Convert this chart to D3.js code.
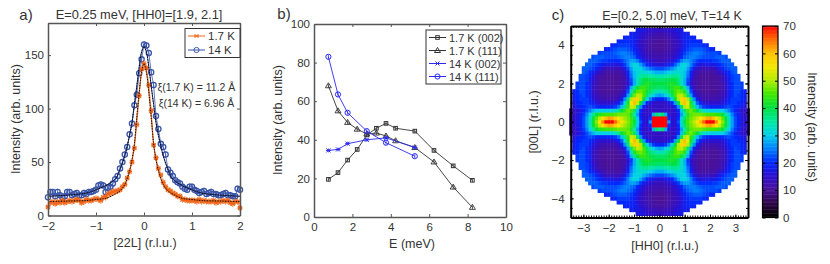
<!DOCTYPE html>
<html>
<head>
<meta charset="utf-8">
<script src="https://cdn.jsdelivr.net/npm/d3@7"></script>
<style>
body { margin: 0; background: #fff; }
svg { display: block; }
text { font-family: "Liberation Sans", Arial, sans-serif; fill: #333; }
.axis path, .axis line { stroke: #555; }
.axis text { font-size: 11.5px; fill: #333; font-family: "Liberation Sans", Arial, sans-serif; }
.black path, .black line { stroke: #000; }
</style>
</head>
<body>
<svg width="830" height="264"></svg>
<script>
// panel a
const scanL = d3.range(81).map(i => -2 + i * 0.05);
const scan17K = [8,12,13,11,13,12,14,12,13,14,13,14,15,14,12,13,15,14,14,15,16,15,14,17,17,20,21,22,23,23,24,27,29,35,41,50,63,85,112,137,142,138,122,98,66,54,44,38,31,27,24,23,21,20,18,18,15,15,14,14,14,14,13,15,13,14,13,13,13,14,12,13,13,14,13,14,12,11,13,13,7];
const scan14K = [17,22,22,18,22,19,17,18,22,22,19,20,21,19,19,21,20,22,22,23,24,28,29,28,22,26,27,30,34,37,44,50,57,64,76,86,103,113,133,146,160,159,152,134,122,93,81,67,64,57,43,40,37,33,31,30,27,25,24,27,27,24,23,21,22,23,20,21,22,20,20,19,19,20,21,19,19,18,18,25,24];
const fitL = [-2,-1.6,-1.2,-1,-0.8,-0.6,-0.5,-0.4,-0.3,-0.25,-0.2,-0.15,-0.1,-0.05,0,0.05,0.1,0.15,0.2,0.25,0.3,0.4,0.5,0.6,0.8,1,1.2,1.6,2];
const fit17K = [13,13.5,14,15,16,20,23,29,42,52,67,92,115,134,142,134,115,92,67,52,42,29,23,20,16,15,14,13.5,13];
const fit14K = [18,19,21,24,28,34,43,56,75,87,104,121,139,153,158,153,139,121,104,87,75,56,43,34,28,24,21,19,18];
const scanErr = 3;
const ticksAX = [-2,-1,0,1,2];
const ticksAY = [0,50,100,150];

// panel b
const energy17K = [0.75,1.25,1.75,2.25,2.75,3.25,3.75,4.25,5.25,6.25,7.25,8.25];
const int17K002 = [19.5,23,29.5,35,42.5,46,48.5,46,44.5,34.5,26.5,19];
const int17K111 = [68,55,49,45.5,43,43.5,42,39.5,36,28.5,15.5,5];
const energy14K = [0.75,1.25,1.75,2.75,3.75,5.25];
const int14K002 = [34.5,35,38,40,41,36];
const int14K111 = [83,63.5,54,44.5,38.5,31.5];
const energyErr = 1;
const ticksBX = [0,2,4,6,8,10];
const ticksBY = [0,20,40,60,80,100];

// panel c, one quadrant, mirrored when drawn
const stepH = 0.125;
const stepL = 0.2;
const mapRows = [
[71,71,71,26,15,16,22,32,40,45,48,51,55,60,65,71,71,71,63,55,48,41,33,27,22,19,17,15,13],
[71,71,71,20,15,15,20,30,38,44,47,49,52,55,58,61,62,60,56,51,46,40,33,27,22,19,16,15,13],
[34,38,28,16,14,15,18,27,35,42,46,47,47,47,46,45,45,45,44,43,40,36,30,25,21,18,16,14,12],
[14,14,14,14,14,15,20,29,38,45,47,44,40,36,33,31,30,30,30,30,30,28,25,22,19,17,15,14,12],
[14,14,14,14,15,18,26,38,50,52,44,36,29,24,21,20,19,19,19,19,20,21,22,21,20,19,18,16],
[14,14,15,16,19,27,40,52,60,54,42,32,23,19,16,15,15,15,15,15,16,18,20,21,21,20,19,17],
[19,19,21,25,31,40,50,57,58,50,37,26,18,14,12,12,12,12,12,13,14,16,19,21,21,21,20,18],
[27,28,30,33,38,45,50,51,47,38,27,18,14,12,11,11,11,11,11,12,13,15,18,20,22,21,20,18],
[33,34,36,38,41,45,47,46,42,33,22,15,12,11,10,10,10,10,10,11,12,14,18,20,22,22,20,19],
[38,38,39,40,42,44,44,41,36,28,19,13,11,10,10,10,10,10,10,11,12,14,18,20,22,22,21],
[40,40,40,41,42,41,38,33,28,21,15,12,11,10,10,10,10,10,10,11,12,14,18,20,22,22,21],
[38,38,39,39,40,40,37,33,28,22,16,12,11,10,10,10,10,10,10,11,13,15,18,21,22,22],
[34,34,35,35,36,36,35,32,29,24,18,13,11,10,10,10,10,10,11,11,13,16,19,21,22,22],
[28,28,29,30,31,32,32,31,29,25,19,14,12,11,11,11,11,11,12,14,16,18,20,22,23],
[22,22,23,24,26,28,30,31,30,27,22,17,14,13,13,13,13,13,15,17,19,21,22,23,23],
[16,16,17,18,20,23,27,30,31,29,25,21,18,16,16,17,17,17,18,20,21,22,23,23],
[13,13,14,15,16,18,21,25,27,27,25,23,21,20,20,20,20,21,21,22,23,23,23],
[12,12,12,13,14,15,17,20,23,24,25,25,24,23,22,22,22,22,23,23,23,22],
[11,11,12,12,13,14,16,18,21,23,24,25,25,24,23,22,22,22,22,21],
[10,10,11,11,12,13,15,17,19,21,22,23,23,23,22,21,20,19],
[10,10,10,11,12,13,14,16,18,20,21,21,21,21,20,19],
[10,10,11,11,12,13,14,16,18,19,20,20,20,19],
[11,11,11,12,13,14,15,17,18,19,19,19],
[12,12,13,13,14,15,16,17,18,18],
[14,14,14,15,15,16,17,17]
];
const colorValues = [0,5,10,15,20,25,30,35,40,45,50,55,60,65,70];
const colorStops = ["#000000","#2c0648","#4a129a","#2c10d0","#0028ff","#0080ff","#00d0e8","#00e8a0","#00e040","#40e800","#b0ec00","#f4e800","#ffc000","#ff6800","#ff0000"];
const ticksCX = [-3,-2,-1,0,1,2,3];
const ticksCY = [-4,-2,0,2,4];
const ticksBar = [0,10,20,30,40,50,60,70];

const orange = "#f0661a", blue = "#3a55a8", mpBlue = "#2a2af0", grey = "#333";

const svg = d3.select("svg");

function frame(x, y, xTicks, yTicks, cls, padLeft) {
    const [x0, x1] = x.range();
    const [y0, y1] = y.range();
    const g = svg.append("g");
    const add = (axis, tx, ty, vals, pad) => {
        const a = axis.tickValues(vals).tickSizeInner(-3).tickSizeOuter(0).tickPadding(pad).tickFormat(pad ? d3.format("d") : "");
        g.append("g").attr("class", "axis " + cls).attr("transform", `translate(${tx},${ty})`).call(a)
            .call(s => s.select(".domain").attr("stroke-width", cls == "black" ? 2 : 1.5));
    };
    add(d3.axisBottom(x), 0, y0, xTicks, 6);
    add(d3.axisTop(x), 0, y1, xTicks, 0);
    add(d3.axisLeft(y), x0, 0, yTicks, padLeft);
    add(d3.axisRight(y), x1, 0, yTicks, 0);
    return g;
}

function label(txt, x, y, size, rotate) {
    const t = svg.append("text").attr("font-size", size).attr("text-anchor", "middle").text(txt);
    if (rotate) t.attr("transform", `translate(${x},${y}) rotate(${rotate})`);
    else t.attr("x", x).attr("y", y);
    return t;
}

function drawMarker(g, kind, color, px, py, err, sw) {
    if (err) g.append("line").attr("x1", px).attr("x2", px).attr("y1", py - err).attr("y2", py + err)
        .attr("stroke", color).attr("stroke-width", 0.8);
    if (kind == "circle") g.append("circle").attr("cx", px).attr("cy", py).attr("r", 2.6)
        .attr("fill", "none").attr("stroke", color).attr("stroke-width", sw);
    if (kind == "square") g.append("rect").attr("x", px - 1.8).attr("y", py - 1.8).attr("width", 3.6).attr("height", 3.6)
        .attr("fill", "none").attr("stroke", color).attr("stroke-width", sw);
    if (kind == "triangle") g.append("path").attr("d", `M${px},${py - 3}L${px + 3},${py + 2}L${px - 3},${py + 2}Z`)
        .attr("fill", "none").attr("stroke", color).attr("stroke-width", sw);
    if (kind == "cross") g.append("path").attr("d", `M${px - 2},${py - 2}L${px + 2},${py + 2}M${px - 2},${py + 2}L${px + 2},${py - 2}M${px - 2.5},${py}L${px + 2.5},${py}`)
        .attr("fill", "none").attr("stroke", color).attr("stroke-width", sw);
}

function series(xs, ys, x, y, kind, color, err, sw, msw) {
    const g = svg.append("g");
    const line = d3.line().x((d, i) => x(xs[i])).y(d => y(d));
    g.append("path").attr("d", line(ys)).attr("fill", "none").attr("stroke", color).attr("stroke-width", sw);
    ys.forEach((v, i) => drawMarker(g, kind, color, x(xs[i]), y(v), Math.abs(y(v) - y(v + err)), msw));
}

function legend(x0, y0, w, h, rows, rowH, size) {
    const g = svg.append("g");
    g.append("rect").attr("x", x0).attr("y", y0).attr("width", w).attr("height", h)
        .attr("fill", "#fff").attr("stroke", "#333").attr("stroke-width", 1);
    rows.forEach((r, i) => {
        const yy = y0 + (i + 0.5) * rowH + (h - rowH * rows.length) / 2;
        g.append("line").attr("x1", x0 + 3).attr("x2", x0 + 20).attr("y1", yy).attr("y2", yy)
            .attr("stroke", r.color).attr("stroke-width", 1);
        drawMarker(g, r.kind, r.color, x0 + 11.5, yy, 0, 1);
        g.append("text").attr("x", x0 + 23).attr("y", yy + 4).attr("font-size", size).text(r.name);
    });
}

// ---- a)
const xA = d3.scaleLinear().domain([-2, 2]).range([48, 240]);
const yA = d3.scaleLinear().domain([0, 180]).range([215.5, 23]);
series(scanL, scan14K, xA, yA, "circle", blue, scanErr, 0.8, 1.3);
series(scanL, scan17K, xA, yA, "cross", orange, scanErr, 0.8, 1.3);
const fitLine = d3.line().x((d, i) => xA(fitL[i])).y(d => yA(d)).curve(d3.curveCatmullRom);
[[fit14K, "#1f2f70"], [fit17K, "#c05410"]].forEach(([f, c]) => {
    svg.append("path").attr("d", fitLine(f)).attr("fill", "none").attr("stroke", c).attr("stroke-width", 1);
    svg.append("path").attr("d", fitLine(f)).attr("fill", "none").attr("stroke", "#000")
        .attr("stroke-width", 1).attr("stroke-dasharray", "1 1.6");
});
frame(xA, yA, ticksAX, ticksAY, "", 4);
legend(185, 28.5, 55, 29, [{name: "1.7 K", kind: "cross", color: orange}, {name: "14 K", kind: "circle", color: blue}], 14, 11.5);
label("a)", 26, 20, 15);
label("E=0.25 meV, [HH0]=[1.9, 2.1]", 139, 19, 12.8);
label("Intensity (arb. units)", 20, 119, 12.5, -90);
label("[22L] (r.l.u.)", 145, 247, 12.5);
label("ξ(1.7 K) = 11.2 Å", 196.5, 91, 10.5);
label("ξ(14 K) = 6.96 Å", 196.5, 107, 10.5);

// ---- b)
const xB = d3.scaleLinear().domain([0, 10]).range([314, 506]);
const yB = d3.scaleLinear().domain([0, 100]).range([217, 24]);
series(energy17K, int17K002, xB, yB, "square", grey, energyErr, 0.9, 1);
series(energy17K, int17K111, xB, yB, "triangle", grey, energyErr, 0.9, 0.9);
series(energy14K, int14K002, xB, yB, "cross", mpBlue, energyErr, 0.9, 1);
series(energy14K, int14K111, xB, yB, "circle", mpBlue, energyErr, 0.9, 1);
frame(xB, yB, ticksBX, ticksBY, "", 4);
legend(426, 30, 75, 54, [
    {name: "1.7 K (002)", kind: "square", color: grey},
    {name: "1.7 K (111)", kind: "triangle", color: grey},
    {name: "14 K (002)", kind: "cross", color: mpBlue},
    {name: "14 K (111)", kind: "circle", color: mpBlue}], 13, 11);
label("b)", 284, 19, 15);
label("Intensity (arb. units)", 282, 120, 12.5, -90);
label("E (meV)", 412, 248, 12.5);

// ---- c)
const xC = d3.scaleLinear().domain([-3.5, 3.5]).range([570.7, 748]);
const yC = d3.scaleLinear().domain([-5, 5]).range([217.5, 26]);
const color = d3.scaleLinear().domain(colorValues).range(colorStops).clamp(true);
const cells = [];
mapRows.forEach((row, r) => row.forEach((v, c) => {
    [1, -1].forEach(sh => {
        [1, -1].forEach(sl => {
            if ((c == 0 && sh < 0) || (r == 0 && sl < 0)) return;
            cells.push({h: sh * c * stepH, l: sl * r * stepL, v: v});
        });
    });
}));
svg.append("g").selectAll("rect").data(cells).enter().append("rect")
    .attr("x", d => xC(d.h - stepH / 2))
    .attr("y", d => yC(d.l + stepL / 2))
    .attr("width", xC(stepH) - xC(0) + 0.4)
    .attr("height", yC(0) - yC(stepL) + 0.4)
    .attr("fill", d => color(d.v));
const minorCX = d3.range(-35, 36).map(d => d / 10);
const minorCY = d3.range(-10, 11).map(d => d / 2);
frame(xC, yC, ticksCX, ticksCY, "black", 6);
svg.append("g").attr("class", "axis black").attr("transform", "translate(0,26)")
    .call(d3.axisBottom(xC).tickValues(minorCX).tickSize(2).tickFormat("")).select(".domain").remove();
svg.append("g").attr("class", "axis black").attr("transform", "translate(0,217.5)")
    .call(d3.axisTop(xC).tickValues(minorCX).tickSize(2).tickFormat("")).select(".domain").remove();
svg.append("g").attr("class", "axis black").attr("transform", "translate(570.7,0)")
    .call(d3.axisRight(yC).tickValues(minorCY).tickSize(2).tickFormat("")).select(".domain").remove();
svg.append("g").attr("class", "axis black").attr("transform", "translate(748,0)")
    .call(d3.axisLeft(yC).tickValues(minorCY).tickSize(2).tickFormat("")).select(".domain").remove();
label("c)", 558, 20, 15);
label("E=[0.2, 5.0] meV, T=14 K", 672, 20, 12.5);
label("[00L] (r.l.u.)", 538, 122, 12.5, -90);
label("[HH0] (r.l.u.)", 665, 250, 12.5);

// colour bar
const yBar = d3.scaleLinear().domain([0, 70]).range([217.5, 26]);
svg.append("g").selectAll("rect").data(d3.range(0, 70, 0.5)).enter().append("rect")
    .attr("x", 762.5).attr("width", 15.5)
    .attr("y", d => yBar(d + 0.5)).attr("height", yBar(0) - yBar(0.5) + 0.4)
    .attr("fill", d => color(d));
svg.append("rect").attr("x", 762.5).attr("y", 26).attr("width", 15.5).attr("height", 191.5)
    .attr("fill", "none").attr("stroke", "#000").attr("stroke-width", 1.2);
svg.append("g").attr("class", "axis black").attr("transform", "translate(762.5,0)")
    .call(d3.axisRight(yBar).tickValues(ticksBar).tickSize(3).tickFormat("")).select(".domain").remove();
svg.append("g").attr("class", "axis black").attr("transform", "translate(778,0)")
    .call(d3.axisLeft(yBar).tickValues(ticksBar).tickSize(3).tickFormat("")).select(".domain").remove();
svg.append("g").attr("class", "axis").attr("transform", "translate(778,0)")
    .call(d3.axisRight(yBar).tickValues(ticksBar).tickSize(0).tickPadding(5))
    .select(".domain").remove();
label("Intensity (arb. units)", 808, 127, 12.5, 90);
</script>
</body>
</html>
